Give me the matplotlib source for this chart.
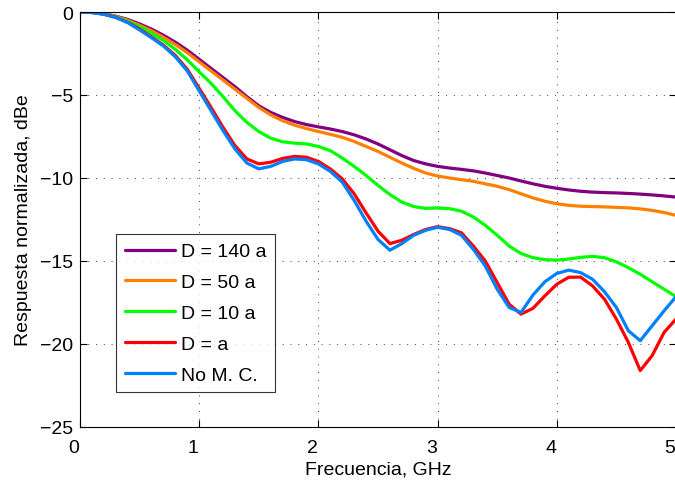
import numpy as np
import matplotlib
matplotlib.use("Agg")
import matplotlib.pyplot as plt
import matplotlib.transforms as mtransforms

plt.rcParams['font.family'] = ['Liberation Sans', 'DejaVu Sans']

freq = [0.0, 0.1, 0.2, 0.3, 0.4, 0.5, 0.6, 0.7, 0.8, 0.9,
        1.0, 1.1, 1.2, 1.3, 1.4, 1.5, 1.6, 1.7, 1.8, 1.9,
        2.0, 2.1, 2.2, 2.3, 2.4, 2.5, 2.6, 2.7, 2.8, 2.9,
        3.0, 3.1, 3.2, 3.3, 3.4, 3.5, 3.6, 3.7, 3.8, 3.9,
        4.0, 4.1, 4.2, 4.3, 4.4, 4.5, 4.6, 4.7, 4.8, 4.9, 5.0]

d140 = [0, -0.02, -0.1, -0.25, -0.45, -0.72, -1.03, -1.4, -1.82, -2.3,
        -2.85, -3.4, -3.95, -4.5, -5.1, -5.65, -6.05, -6.35, -6.6, -6.78,
        -6.92, -7.05, -7.2, -7.4, -7.65, -7.95, -8.3, -8.65, -8.95, -9.15,
        -9.3, -9.4, -9.48, -9.57, -9.7, -9.85, -10.0, -10.18, -10.35, -10.5,
        -10.62, -10.72, -10.8, -10.85, -10.88, -10.9, -10.93, -10.97, -11.02, -11.08,
        -11.15]

d50 = [0, -0.02, -0.1, -0.27, -0.5, -0.8, -1.13, -1.52, -1.96, -2.45,
       -3.0, -3.55, -4.1, -4.65, -5.2, -5.75, -6.2, -6.55, -6.82, -7.02,
       -7.2, -7.37, -7.55, -7.8, -8.1, -8.4, -8.75, -9.1, -9.42, -9.7,
       -9.88, -10.0, -10.1, -10.2, -10.35, -10.5, -10.7, -10.95, -11.2, -11.4,
       -11.55, -11.65, -11.7, -11.72, -11.74, -11.77, -11.8, -11.86, -11.95, -12.08,
       -12.25]

d10 = [0, -0.03, -0.12, -0.3, -0.55, -0.88, -1.27, -1.72, -2.25, -2.88,
       -3.6, -4.3, -5.1, -5.95, -6.65, -7.2, -7.6, -7.82, -7.9, -7.95,
       -8.1, -8.35, -8.8, -9.3, -9.85, -10.45, -11.0, -11.45, -11.72, -11.83,
       -11.8, -11.85, -12.0, -12.35, -12.85, -13.45, -14.1, -14.55, -14.8, -14.92,
       -14.95, -14.88, -14.78, -14.72, -14.8, -15.05, -15.4, -15.8, -16.25, -16.7,
       -17.15]

d1 = [0, -0.03, -0.13, -0.32, -0.62, -1.02, -1.5, -2.0, -2.62, -3.45,
      -4.6, -5.75, -6.95, -8.05, -8.85, -9.15, -9.05, -8.82, -8.7, -8.75,
      -9.0, -9.45, -10.05, -10.95, -12.1, -13.2, -13.95, -13.75, -13.4, -13.1,
      -12.93, -13.05, -13.3, -14.1, -15.0, -16.3, -17.6, -18.2, -17.85, -17.1,
      -16.4, -15.98, -15.97, -16.5, -17.3, -18.5, -19.9, -21.6, -20.7, -19.3,
      -18.5]

nomc = [0, -0.03, -0.14, -0.33, -0.64, -1.08, -1.55, -2.05, -2.7, -3.55,
        -4.75, -5.95, -7.15, -8.25, -9.1, -9.45, -9.3, -9.0, -8.85, -8.9,
        -9.15, -9.6, -10.25, -11.35, -12.6, -13.7, -14.35, -13.95, -13.45, -13.15,
        -12.97, -13.1, -13.45, -14.3, -15.3, -16.7, -17.8, -18.1, -17.05, -16.25,
        -15.75, -15.55, -15.7, -16.1, -16.85, -17.8, -19.2, -19.8, -18.9, -18.0,
        -17.15]

labels = ["D = 140 a", "D = 50 a", "D = 10 a", "D = a", "No M. C."]
colors = ["#800080", "#ff8000", "#00ff00", "#ff0000", "#0080ff"]
series = [d140, d50, d10, d1, nomc]

fig = plt.figure(figsize=(6.75, 4.81), dpi=100)
ax = fig.add_axes([80/675, 53/481, 596/675, 415/481])

for y, c, lab in zip(series, colors, labels):
    ax.plot(freq, y, color=c, lw=2.3, label=lab,
            solid_capstyle='round', solid_joinstyle='round')

ax.set_xlim(0, 5)
ax.set_ylim(-25, 0)
ax.set_xticks([0, 1, 2, 3, 4, 5])
ax.set_yticks([-25, -20, -15, -10, -5, 0])
ax.grid(True, linestyle=(0, (1, 7)), linewidth=0.7, color='0.25')
ax.tick_params(direction='in', length=5, width=0.8, top=True, right=True,
               labelsize=14, pad=9)
ax.tick_params(axis='y', pad=5)
for s in ax.spines.values():
    s.set_linewidth(0.8)

offset = mtransforms.ScaledTranslation(-0.06, 0, fig.dpi_scale_trans)
for t in ax.get_xticklabels():
    t.set_transform(t.get_transform() + offset)

ax.set_xlabel("Frecuencia, GHz", fontsize=14, labelpad=3)
ax.set_ylabel("Respuesta normalizada, dBe", fontsize=14, labelpad=6)

leg = ax.legend(loc='upper left', bbox_to_anchor=(0.0605, 0.465), fontsize=14,
                frameon=True, fancybox=False, handlelength=2.6, handletextpad=0.3,
                borderpad=0.45, labelspacing=0.68, borderaxespad=0)
leg.get_frame().set_edgecolor('black')
leg.get_frame().set_linewidth(0.8)

fig.savefig("out.png", dpi=100)
